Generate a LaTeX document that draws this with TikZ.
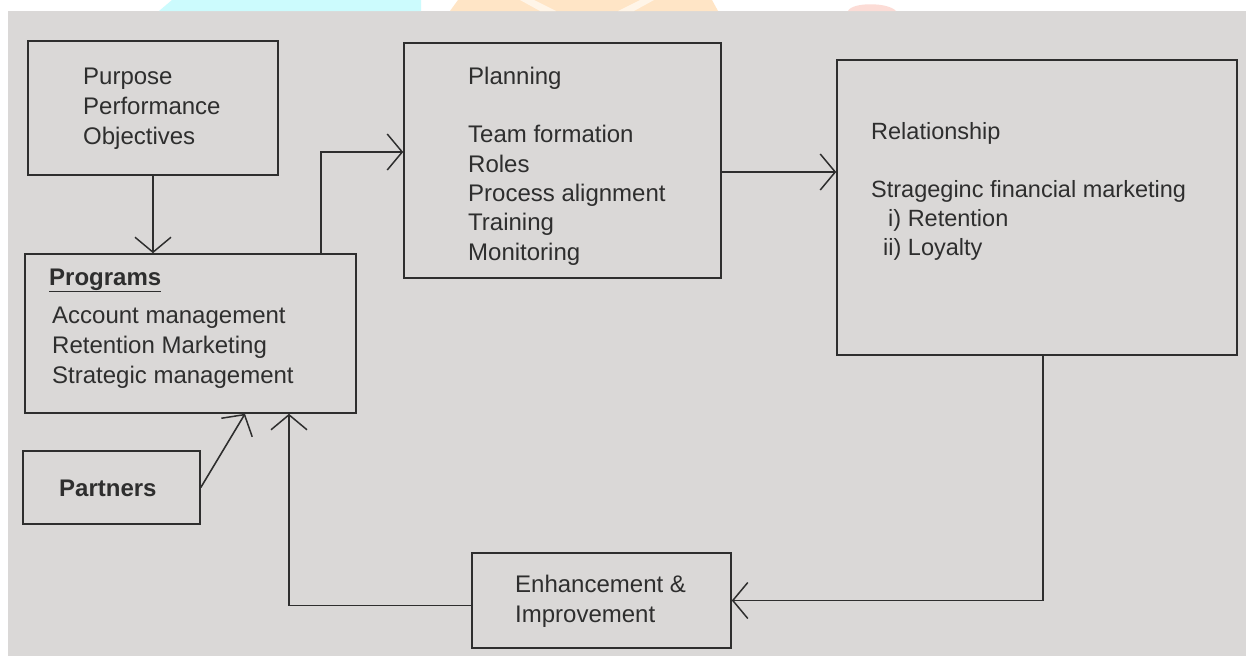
\documentclass[tikz,border=0pt]{standalone}
\usepackage{fontspec}
\setmainfont{Liberation Sans}
\usetikzlibrary{arrows.meta}
\definecolor{paper}{HTML}{DAD8D7}
\definecolor{ink}{HTML}{2E2E2E}
\definecolor{wmcyan}{HTML}{CCFBFD}
\definecolor{wmorange}{HTML}{FFE5C6}
\definecolor{wmpink}{HTML}{FCDCD6}
\tikzset{
  box/.style={draw=ink, line width=1.6pt, fill=none, inner sep=0pt},
  lbl/.style={anchor=base west, align=left, inner sep=0pt, text=ink,
    font=\fontsize{24}{30}\selectfont},
  conn/.style={draw=ink, line width=1.6pt,
    -{Straight Barb[length=15pt,width=36pt,line width=1.5pt]}},
}
\begin{document}
\begin{tikzpicture}[x=1pt,y=-1pt]
\useasboundingbox (0,0) rectangle (1246,656);
% paper and top watermark strip
\fill[white] (0,0) rectangle (1246,656);
\fill[paper] (8,11) rectangle (1246,656);
\fill[wmcyan] (172,0) -- (421,0) -- (421,11) -- (159,11) -- cycle;
\fill[wmorange] (458,0) -- (712,0) -- (718,11) -- (450,11) -- cycle;
\fill[white!60!wmorange] (520,0) -- (534,0) -- (556,11) -- (540,11) -- cycle;
\fill[white!60!wmorange] (640,0) -- (654,0) -- (634,11) -- (618,11) -- cycle;
\fill[wmpink] (848,11) .. controls (852,2) and (888,2) .. (896,11) -- cycle;

% boxes
\node[box, minimum width=250pt, minimum height=134pt] (A) at (153,108) {};
\node[box, minimum width=331pt, minimum height=159pt] (B) at (190.5,333.5) {};
\node[box, minimum width=177pt, minimum height=73pt] (C) at (111.5,487.5) {};
\node[box, minimum width=317pt, minimum height=235pt] (D) at (562.5,160.5) {};
\node[box, minimum width=400pt, minimum height=295pt] (E) at (1037,207.5) {};
\node[box, minimum width=259pt, minimum height=95pt] (F) at (601.5,600.5) {};

% texts (anchored at the baseline of their last line)
\node[lbl] (tA) at (83,144) {Purpose\\Performance\\Objectives};
\node[lbl] (tB0) at (49,285) {\underline{\textbf{Programs}}};
\node[lbl] (tB) at (52,383) {Account management\\Retention Marketing\\Strategic management};
\node[lbl] (tC) at (59,496) {\textbf{Partners}};
\node[lbl, font=\fontsize{24}{29.3}\selectfont] (tD) at (468,260)
  {Planning\\[29.3pt]Team formation\\Roles\\Process alignment\\Training\\Monitoring};
\node[lbl, font=\fontsize{23.5}{29}\selectfont] (tE) at (871,255)
  {Relationship\\[29pt]Strageginc financial marketing\\\hspace*{17pt}i) Retention\\\hspace*{12pt}ii) Loyalty};
\node[lbl] (tF) at (515,622) {Enhancement \&\\Improvement};

% connectors
\draw[conn] (A.south) -- (A.south |- B.north);
\draw[conn] ([xshift=130.5pt]B.north) |- ([yshift=8.5pt]D.west);
\draw[conn] ([yshift=-11.5pt]D.east) -- ([yshift=-11.5pt]D.east -| E.west);
\draw[conn] ([xshift=6pt]E.south) |- (F.east);
\draw[conn] ([yshift=-5pt]F.west) -| ([xshift=98.5pt]B.south);
\draw[conn] (C.east) -- ([xshift=54.5pt]B.south);
\end{tikzpicture}
\end{document}
